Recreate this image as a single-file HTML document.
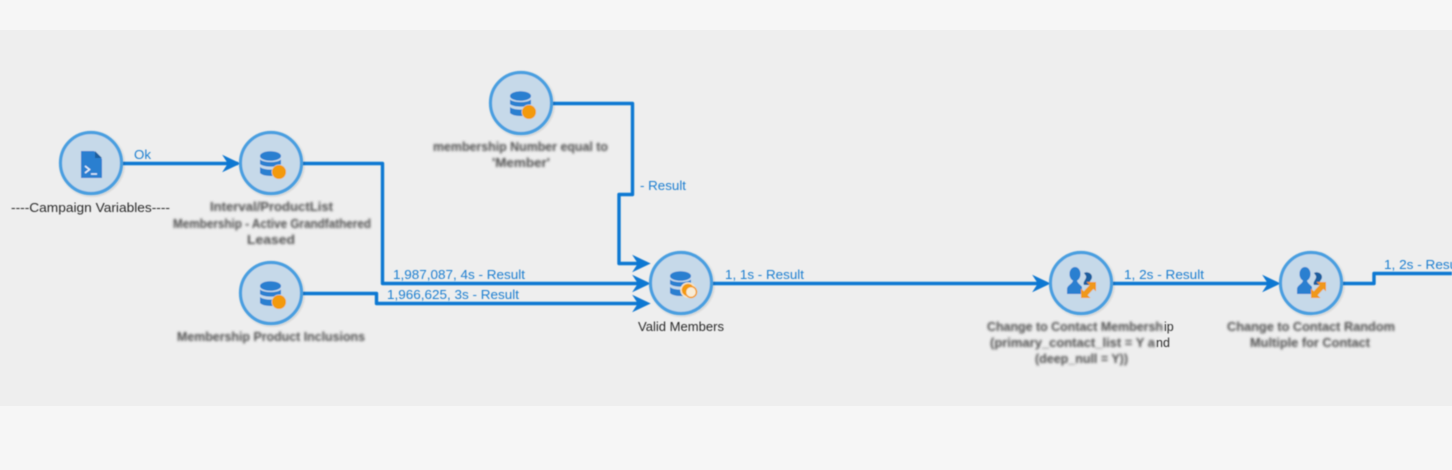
<!DOCTYPE html>
<html>
<head>
<meta charset="utf-8">
<style>
html,body{margin:0;padding:0;width:1452px;height:470px;overflow:hidden;background:#f6f6f6}
svg{display:block;position:absolute;left:0;top:0}
text{font-family:"Liberation Sans",sans-serif;font-size:12.500px}
.l{fill:#1f7fd0}
.n{fill:#2a2a2a}
.b{fill:#505050;filter:url(#bl);font-weight:bold;font-size:12.500px}
.w{fill:none;stroke:#0a78d2;stroke-width:3.400;stroke-linejoin:round}
.c{fill:#c6d9e9;stroke:#4a9fe0;stroke-width:3.200;filter:url(#sh)}
</style>
</head>
<body>
<svg width="1452" height="470" viewBox="0 0 1452 470" xmlns="http://www.w3.org/2000/svg">
<defs>
<filter id="bl" x="-10%" y="-50%" width="120%" height="200%"><feGaussianBlur stdDeviation="1.300"/></filter>
<filter id="soft" x="-2%" y="-2%" width="104%" height="104%"><feGaussianBlur stdDeviation="0.450"/></filter>
<filter id="sh" x="-20%" y="-20%" width="140%" height="140%"><feDropShadow dx="1" dy="1" stdDeviation="1" flood-color="#000" flood-opacity=".18"/></filter>
<g id="db">
<ellipse cx="0" cy="-8" rx="10.500" ry="4.800" fill="#2a7fd0"/>
<path d="M-10.500-4.500C-7-1 7-1 10.500-4.500V0C7 3.500-7 3.500-10.500 0Z" fill="#2a7fd0"/>
<path d="M-10.500 3C-7 6.500 7 6.500 10.500 3V9C7 13-7 13-10.500 9Z" fill="#2a7fd0"/>
</g>
<g id="users">
<ellipse cx="-6" cy="-8" rx="5.500" ry="7" fill="#2a7fd0"/>
<path d="M-8-2H-4C-4 1 0 3 1 5V12H-14V7C-14 3-8 2-8-2Z" fill="#2a7fd0"/>
<path d="M3-9C6-11 11-9 11-5C11-2 8-1 9 1L12 3H3C1 0 6-3 5-6Z" fill="#1d5f9f"/>
<path d="M3.500 12.500L11.500 4" stroke="#f0981c" stroke-width="5.500" fill="none"/>
<path d="M0 6.500V16H9.500Z M5.500 0H15V9.500Z" fill="#f0981c"/>
</g>
<g id="arrow"><path d="M0 0L-17-8L-12.500-1V1L-17 8Z" fill="#0a78d2" stroke="#0a78d2" stroke-width=".6"/></g>
</defs>

<rect x="0" y="30" width="1452" height="376" fill="#eeeeee"/>

<g filter="url(#soft)">
<!-- connectors -->
<path class="w" d="M122 163.500H238"/>
<path class="w" d="M302 163.500H382.500V283.500H646"/>
<path class="w" d="M302 293.500H376.500V303.500H646"/>
<path class="w" d="M552 103.500H632.500V194.500H619V263.500H646"/>
<path class="w" d="M712 283.500H1046"/>
<path class="w" d="M1112 283.500H1276"/>
<path class="w" d="M1342 283.500H1374V273.500H1452"/>

<use href="#arrow" transform="translate(240,163.500)"/>
<use href="#arrow" transform="translate(650,263.500)"/>
<use href="#arrow" transform="translate(650,283.500)"/>
<use href="#arrow" transform="translate(650,303.500)"/>
<use href="#arrow" transform="translate(1050,283.500)"/>
<use href="#arrow" transform="translate(1280,283.500)"/>

<!-- nodes -->
<circle class="c" cx="91" cy="163" r="30.500"/>
<circle class="c" cx="271" cy="163" r="30.500"/>
<circle class="c" cx="271" cy="293" r="30.500"/>
<circle class="c" cx="521" cy="103" r="30.500"/>
<circle class="c" cx="681" cy="283" r="30.500"/>
<circle class="c" cx="1081" cy="283" r="30.500"/>
<circle class="c" cx="1311" cy="283" r="30.500"/>

<!-- script icon -->
<path d="M81 151H94L102 159V178H81Z" fill="#2a7fd0"/>
<path d="M95 151L102 158H95Z" fill="#1d5f9f"/>
<path d="M85 166L89.500 169.500L85 173M91 174H97" fill="none" stroke="#e6f0fa" stroke-width="1.500"/>

<!-- db icons -->
<use href="#db" transform="translate(270.500,164)"/>
<circle cx="279" cy="172" r="7.500" fill="#c6d9e9"/><circle cx="279" cy="172" r="7" fill="#f39a0c"/>
<use href="#db" transform="translate(270.500,294)"/>
<circle cx="279" cy="302" r="7.500" fill="#c6d9e9"/><circle cx="279" cy="302" r="7" fill="#f39a0c"/>
<use href="#db" transform="translate(520.500,104)"/>
<circle cx="529" cy="112" r="7.500" fill="#c6d9e9"/><circle cx="529" cy="112" r="7" fill="#f39a0c"/>
<use href="#db" transform="translate(680.500,284)"/>
<circle cx="688" cy="290" r="7" fill="#f39a0c" stroke="#f7e6c8" stroke-width="1.500"/>
<circle cx="691" cy="292" r="5.500" fill="#f8ecd6" stroke="#f39a0c" stroke-width="1.500"/>

<!-- user icons -->
<use href="#users" transform="translate(1081,282)"/>
<use href="#users" transform="translate(1311,282)"/>

<!-- connector labels -->
<text class="l" x="134" y="159" textLength="17" lengthAdjust="spacingAndGlyphs">Ok</text>
<text class="l" x="393" y="279" textLength="132" lengthAdjust="spacingAndGlyphs">1,987,087, 4s - Result</text>
<text class="l" x="387" y="299" textLength="132" lengthAdjust="spacingAndGlyphs">1,966,625, 3s - Result</text>
<text class="l" x="640" y="190" textLength="46" lengthAdjust="spacingAndGlyphs">- Result</text>
<text class="l" x="725" y="279" textLength="79" lengthAdjust="spacingAndGlyphs">1, 1s - Result</text>
<text class="l" x="1124" y="279" textLength="80" lengthAdjust="spacingAndGlyphs">1, 2s - Result</text>
<text class="l" x="1384" y="269" textLength="80" lengthAdjust="spacingAndGlyphs">1, 2s - Result</text>

<!-- node labels -->
<text class="n" x="11" y="212" textLength="159" lengthAdjust="spacingAndGlyphs">----Campaign Variables----</text>
<text class="n" x="638" y="331" textLength="86" lengthAdjust="spacingAndGlyphs">Valid Members</text>
<text class="n" x="1164" y="331">ip</text>
<text class="n" x="1156" y="347">nd</text>
</g>

<text class="b" x="210" y="211" textLength="123" lengthAdjust="spacingAndGlyphs">Interval/ProductList</text>
<text class="b" x="173" y="228" textLength="198" lengthAdjust="spacingAndGlyphs">Membership - Active Grandfathered</text>
<text class="b" x="247" y="244" textLength="48" lengthAdjust="spacingAndGlyphs">Leased</text>
<text class="b" x="177" y="341" textLength="188" lengthAdjust="spacingAndGlyphs">Membership Product Inclusions</text>
<text class="b" x="433" y="151" textLength="175" lengthAdjust="spacingAndGlyphs">membership Number equal to</text>
<text class="b" x="492" y="167" textLength="58" lengthAdjust="spacingAndGlyphs">'Member'</text>
<text class="b" x="987" y="331" textLength="176" lengthAdjust="spacingAndGlyphs">Change to Contact Membersh</text>
<text class="b" x="990" y="347" textLength="165" lengthAdjust="spacingAndGlyphs">(primary_contact_list = Y a</text>
<text class="b" x="1035" y="363" textLength="93" lengthAdjust="spacingAndGlyphs">(deep_null = Y))</text>
<text class="b" x="1227" y="331" textLength="168" lengthAdjust="spacingAndGlyphs">Change to Contact Random</text>
<text class="b" x="1250" y="347" textLength="120" lengthAdjust="spacingAndGlyphs">Multiple for Contact</text>
</svg>
</body>
</html>
